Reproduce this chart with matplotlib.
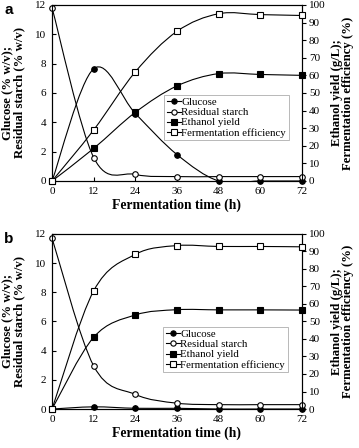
import numpy as np
from matplotlib import use
use('Agg')
import matplotlib.pyplot as plt
from matplotlib.path import Path
from matplotlib.patches import PathPatch
from matplotlib.lines import Line2D

plt.rcParams['font.family'] = ['Liberation Serif', 'DejaVu Serif']

time_h = [0, 12, 24, 36, 48, 60, 72]

# panel a (left axis: % w/v, right axis: g/L and %)
glucose_a = [0, 7.65, 4.6, 1.8, 0.0, 0.0, 0.0]
starch_a = [11.8, 1.6, 0.45, 0.3, 0.3, 0.3, 0.3]
ethanol_a = [0, 18.5, 39, 54, 61, 60.5, 60]
efficiency_a = [0, 29, 62, 85, 95, 94.5, 94]

# panel b
glucose_b = [0, 0.15, 0.05, 0.05, 0.0, 0.0, 0.0]
starch_b = [11.7, 2.95, 1.0, 0.4, 0.3, 0.3, 0.3]
ethanol_b = [0, 41, 53.7, 56.7, 56.6, 56.6, 56.5]
efficiency_b = [0, 67.5, 88.3, 93.3, 92.8, 92.8, 92.6]

labels = ["Glucose", "Residual starch", "Ethanol yield", "Fermentation efficiency"]


def smooth_path(x, y):
    # Catmull-Rom through the points, drawn as cubic bezier segments
    pts = np.column_stack([x, y]).astype(float)
    verts = [pts[0]]
    codes = [Path.MOVETO]
    n = len(pts)
    for k in range(n - 1):
        p0 = pts[max(k - 1, 0)]
        p1 = pts[k]
        p2 = pts[k + 1]
        p3 = pts[min(k + 2, n - 1)]
        verts += [p1 + (p2 - p0) / 6, p2 - (p3 - p1) / 6, p2]
        codes += [Path.CURVE4] * 3
    return Path(verts, codes)


def draw(ax, x, y, marker, face):
    ax.add_patch(PathPatch(smooth_path(x, y), fill=False, lw=0.8, ec='black', zorder=2))
    ax.plot(x, y, linestyle='none', marker=marker, ms=4, mfc=face, mec='black',
            mew=0.8, zorder=3, clip_on=False)


def panel(rect, letter, glu, sta, eth, eff, leg_anchor):
    ax = fig.add_axes(rect)
    ax2 = ax.twinx()
    draw(ax, time_h, glu, 'o', 'black')
    draw(ax, time_h, sta, 'o', 'white')
    draw(ax2, time_h, eth, 's', 'black')
    draw(ax2, time_h, eff, 's', 'white')

    ax.set_xlim(0, 72)
    ax.set_ylim(0, 12)
    ax2.set_ylim(0, 100)
    ax.set_xticks(time_h)
    ax.set_yticks(range(0, 13, 2))
    ax2.set_yticks(range(0, 101, 10))
    ax.tick_params(labelsize=8, length=3, width=0.8, direction='in', pad=4)
    ax2.tick_params(labelsize=8, length=3, width=0.8, direction='out', pad=2)
    for a in (ax, ax2):
        for s in a.spines.values():
            s.set_linewidth(0.8)
    ax.set_xlabel("Fermentation time (h)", fontsize=9.8, fontweight='bold', labelpad=2)
    ax.set_ylabel("Glucose (% w/v);\nResidual starch (% w/v)", fontsize=9.2,
                  fontweight='bold', linespacing=0.95)
    ax2.set_ylabel("Ethanol yield (g/L);\nFermentation efficiency (%)", fontsize=9.2,
                   fontweight='bold', linespacing=0.95)
    ax.yaxis.set_label_coords(-0.108, 0.5)
    ax2.yaxis.set_label_coords(1.115, 0.5)

    handles = []
    for m, f in [('o', 'black'), ('o', 'white'), ('s', 'black'), ('s', 'white')]:
        handles.append(Line2D([], [], color='black', lw=0.8, marker=m, ms=3.8,
                              mfc=f, mec='black', mew=0.8))
    leg = ax2.legend(handles, labels, loc='upper left', bbox_to_anchor=leg_anchor,
                     fontsize=7.8, frameon=True, fancybox=False, edgecolor='#999999',
                     handlelength=1.3, handletextpad=0.05, borderpad=0.25,
                     labelspacing=0.05, borderaxespad=0)
    leg.get_frame().set_linewidth(0.6)
    fig.text(0.012, rect[1] + rect[3] + 0.004, letter, fontsize=11, fontweight='bold',
             family='Liberation Sans', va='top')
    return ax


fig = plt.figure(figsize=(3.59, 4.48), dpi=100)
panel([0.145, 0.596, 0.696, 0.393], 'a', glucose_a, starch_a, ethanol_a, efficiency_a,
      (0.448, 0.489))
panel([0.145, 0.087, 0.696, 0.391], 'b', glucose_b, starch_b, ethanol_b, efficiency_b,
      (0.444, 0.469))

plt.savefig('out.png', dpi=100)
